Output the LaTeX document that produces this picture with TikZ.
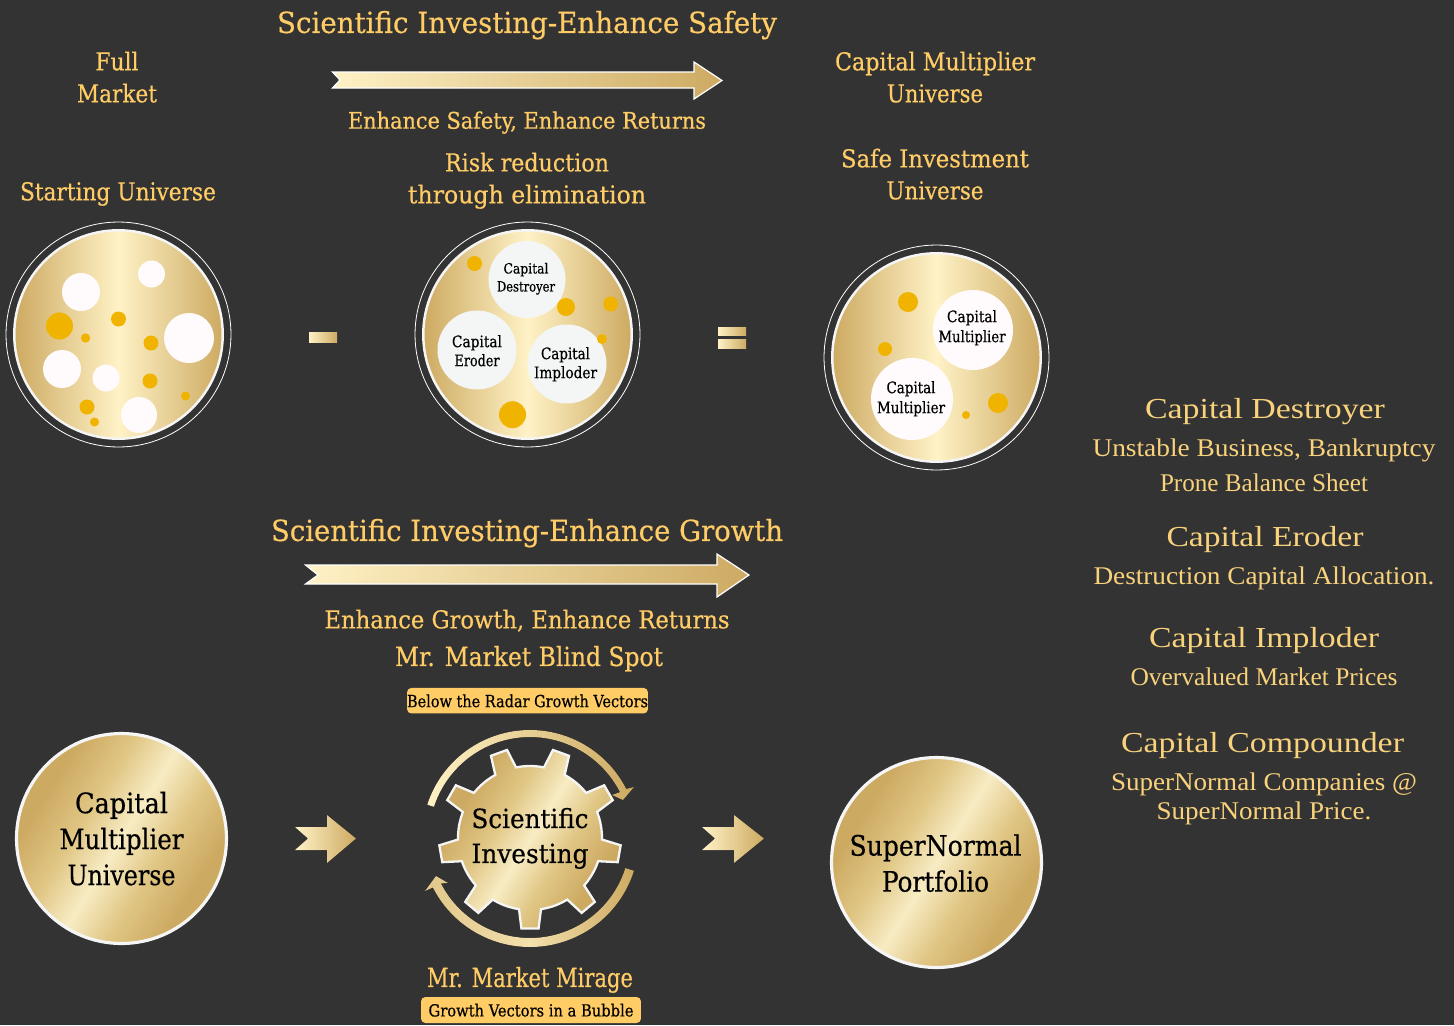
\documentclass[tikz,border=0pt]{standalone}
\usepackage{fontspec}
\usepackage{graphicx}
\setmainfont{DejaVu Serif Condensed}[FakeBold=0.5]
\newfontfamily\zfont{Liberation Serif}
\definecolor{bgc}{HTML}{333333}
\definecolor{gold}{HTML}{FFCC66}
\definecolor{goldb}{HTML}{F9D27C}
\definecolor{edge}{HTML}{CDAA62}
\definecolor{lite}{HTML}{FFF2C6}
\definecolor{wblob}{HTML}{FFFBFD}
\definecolor{gblob}{HTML}{F4F5F5}
\definecolor{yblob}{HTML}{F0B400}
\definecolor{rim}{HTML}{F5F5F5}
\definecolor{bandmid}{HTML}{E0C684}
\definecolor{bandtop}{HTML}{F8ECC4}
\pgfdeclareverticalshading{coinband}{100bp}{color(0bp)=(edge); color(29bp)=(edge); color(40bp)=(bandmid); color(50bp)=(bandtop); color(60bp)=(bandmid); color(71bp)=(edge); color(100bp)=(edge)}
\newsavebox\twbox
\newcommand\tw[3]{\sbox\twbox{\fontsize{#2}{#2}\selectfont #3}%
 \pgfmathsetmacro\twr{#1*0.5691/(\the\wd\twbox)}%
 \pgfmathsetmacro\twh{#2*0.73}%
 \raisebox{0pt}[\twh pt][0pt]{\scalebox{\twr}[1]{\usebox\twbox}}}
\tikzset{
 txt/.style={inner sep=0pt,outer sep=0pt,align=center},
 lab/.style={txt,text=gold,yshift=-0.2pt},
 dark/.style={txt,text=black,yshift=-0.2pt},
 side/.style={txt,text=goldb,font=\zfont},
 ls/.style={execute at begin node={\pgfmathsetlength\baselineskip{#1*0.5691pt}\setlength\lineskip{0pt}\setlength\lineskiplimit{-100pt}}},
 ring/.style={circle,draw=white,line width=0.45pt,inner sep=0pt,minimum size=225*0.5691pt},
 dish/.style={circle,draw=rim,line width=1.4pt,inner sep=0pt,minimum size=208.5*0.5691pt,left color=edge,right color=edge,middle color=lite},
 coin/.style={circle,draw=rim,line width=1.8pt,inner sep=0pt,shading=coinband,shading angle=58},
 blob/.style={circle,inner sep=0pt,draw=none,fill=#1},
 rad/.style={minimum size=2*#1*0.5691pt},
 longarrow/.style={draw=white,line width=0.7pt,left color=lite,right color=edge},
 shortarrow/.style={left color=lite,right color=edge},
 pill/.style={rounded corners=2.5pt,fill=gold,inner sep=0pt}
}
\begin{document}
\begin{tikzpicture}[x=0.02cm,y=-0.02cm]
\fill[bgc] (0,0) rectangle (1454,1025);
\useasboundingbox (0,0) rectangle (1454,1025);

% headings
\node[lab] (t1) at (527,22) {\tw{500}{16.5}{Scientific Investing-Enhance Safety}};
\node[lab,ls=32] (fm) at (117,77) {\tw{43}{14}{Full}\\\tw{80}{14}{Market}};
\node[lab,ls=32] (cmu) at (935,77) {\tw{200}{14}{Capital Multiplier}\\\tw{96}{14}{Universe}};
\node[lab] (es) at (527,120) {\tw{358}{13}{Enhance Safety, Enhance Returns}};
\node[lab,ls=32] (rr) at (527,178) {\tw{164}{14}{Risk reduction}\\\tw{238}{14}{through elimination}};
\node[lab] (su) at (118,191) {\tw{196}{14}{Starting Universe}};
\node[lab,ls=32] (si) at (935,174) {\tw{188}{14}{Safe Investment}\\\tw{97}{14}{Universe}};

% long arrows
\draw[longarrow] (332.5,72) -- (694,72) -- (694,62) -- (722,80.5) -- (694,99) -- (694,88) -- (332.5,88) -- (340,80) -- cycle;
\draw[longarrow] (305.5,565) -- (717,565) -- (717,554) -- (749,575) -- (717,597) -- (717,584) -- (305.5,584) -- (318,575) -- cycle;

% minus and equals
\fill[left color=lite,right color=edge] (309,332) rectangle (337,342);
\fill[left color=lite,right color=edge] (718,327) rectangle (746,335);
\fill[left color=lite,right color=edge] (718,339) rectangle (746,348);

% dishes
\node[ring] (r1) at (118.5,334.5) {};
\node[dish] (d1) at (118.5,334.5) {};
\node[ring] (r2) at (527.5,334.5) {};
\node[dish] (d2) at (527.5,334.5) {};
\node[ring] (r3) at (936.5,357.5) {};
\node[dish] (d3) at (936.5,357.5) {};

\foreach \x/\y/\r [count=\i] in {81/292/19,151.5/274/13.5,189/338/25,62/369/19,106/378/13.5,139/415/18}
  \node[blob=wblob,rad=\r] (wa\i) at (\x,\y) {};
\foreach \x/\y/\r [count=\i] in {59.5/326/13.5,118.5/319/7.5,85.5/338/4.7,151/343/7.5,150/381/7.5,87/407/7.5,94.5/422/4.5,185.5/396/4.5}
  \node[blob=yblob,rad=\r] (ya\i) at (\x,\y) {};
\foreach \x/\y/\r [count=\i] in {527/279.5/38.5,477/350/39.5,567/364/39.5}
  \node[blob=gblob,rad=\r] (wb\i) at (\x,\y) {};
\foreach \x/\y/\r [count=\i] in {474.5/263.5/7.5,566/307/9,610.7/304/7.5,602/339/5,512.5/414.7/13.5}
  \node[blob=yblob,rad=\r] (yb\i) at (\x,\y) {};
\foreach \x/\y/\r [count=\i] in {973/330/40,912/399/41}
  \node[blob=wblob,rad=\r] (wc\i) at (\x,\y) {};
\foreach \x/\y/\r [count=\i] in {908/302/10,885/349/7,998/403/10,966/415/4}
  \node[blob=yblob,rad=\r] (yc\i) at (\x,\y) {};

\node[dark,ls=18] (lb1) at (526,277) {\tw{45}{8}{Capital}\\\tw{58}{8}{Destroyer}};
\node[dark,ls=19] (lb2) at (477,350.5) {\tw{50}{9}{Capital}\\\tw{45}{9}{Eroder}};
\node[dark,ls=19] (lb3) at (565.5,362.5) {\tw{49}{9}{Capital}\\\tw{63}{9}{Imploder}};
\node[dark,ls=20] (lc1) at (972,326) {\tw{50}{9}{Capital}\\\tw{67}{9}{Multiplier}};
\node[dark,ls=20] (lc2) at (911,397) {\tw{49}{9}{Capital}\\\tw{68}{9}{Multiplier}};

% growth heading
\node[lab] (t2) at (527,530) {\tw{512}{16.5}{Scientific Investing-Enhance Growth}};
\node[lab] (eg) at (527,619) {\tw{405}{14}{Enhance Growth, Enhance Returns}};
\node[lab] (bs) at (529,656) {\tw{268}{15}{Mr. Market Blind Spot}};

\node[pill,minimum width=241*0.5691pt,minimum height=25.5*0.5691pt] (p1) at (527.5,700.7) {};
\node[dark] (p1t) at (p1) {\tw{241}{9.5}{Below the Radar Growth Vectors}};
\node[lab] (mm) at (530,977) {\tw{206}{15}{Mr. Market Mirage}};
\node[pill,minimum width=220*0.5691pt,minimum height=26*0.5691pt] (p2) at (531,1010) {};
\node[dark] (p2t) at (p2) {\tw{205}{9.5}{Growth Vectors in a Bubble}};

% coins
\node[coin,minimum size=210*0.5691pt] (c1) at (121.5,838.5) {};
\node[dark,ls=36] (c1t) at (c1) {\tw{93}{16}{Capital}\\\tw{124}{16}{Multiplier}\\\tw{108}{16}{Universe}};
\node[coin,minimum size=210*0.5691pt] (c2) at (936.5,862.5) {};
\node[dark,ls=36] (c2t) at (935.5,863) {\tw{172}{16}{SuperNormal}\\\tw{107}{16}{Portfolio}};

% short arrows
\fill[shortarrow] (295,827) -- (327,827) -- (327,815) -- (356,838.5) -- (327,863) -- (327,850) -- (295,850) -- (308,838.5) -- cycle;
\fill[shortarrow] (702,827) -- (734,827) -- (734,815) -- (764,838.5) -- (734,863) -- (734,850) -- (702,850) -- (715,838.5) -- cycle;

% gear
\begin{scope}[shift={(530,838)}]
\gdef\gearpath{}
\foreach \a in {90,130,...,410}{
  \xdef\gearpath{\gearpath -- ({\a-8.8}:72) -- ({\a-5.4}:91) -- ({\a+5.4}:91) -- ({\a+8.8}:72)
   -- ({\a+13}:72) -- ({\a+17}:72) -- ({\a+20}:72) -- ({\a+23}:72) -- ({\a+27}:72)}
}
\draw[draw=rim,line width=1.3pt,shading=coinband,shading angle=58]
  (81.2:72) \gearpath -- cycle;
\fill[left color=lite,right color=edge]
  plot[domain=198:333,samples=50,smooth] ({101*cos(\x)},{101*sin(\x)})
  -- (82,-43) -- (93,-38) -- (104,-51) --
  plot[domain=333:198,samples=50,smooth] ({108*cos(\x)},{108*sin(\x)}) -- cycle;
\fill[left color=edge!60!lite,right color=edge,middle color=lite!75!edge]
  plot[domain=17.5:153,samples=50,smooth] ({100*cos(\x)},{100*sin(\x)})
  -- (-82,45) -- (-94,38) -- (-105,53) --
  plot[domain=153:17.5,samples=50,smooth] ({109*cos(\x)},{109*sin(\x)}) -- cycle;
\end{scope}
\node[dark,ls=35] (g) at (530,835.5) {\tw{117}{15}{Scientific}\\\tw{117}{15}{Investing}};

% right column
\node[side] (h1) at (1265,408) {\tw{240}{16.5}{Capital Destroyer}};
\node[side,ls=35] (b1) at (1264,464.5) {\tw{343}{14.5}{Unstable Business, Bankruptcy}\\\tw{208}{14.5}{Prone Balance Sheet}};
\node[side] (h2) at (1265,536) {\tw{197}{16.5}{Capital Eroder}};
\node[side] (b2) at (1264,575) {\tw{341}{14.5}{Destruction Capital Allocation.}};
\node[side] (h3) at (1264,637) {\tw{230}{16.5}{Capital Imploder}};
\node[side] (b3) at (1264,676) {\tw{267}{14.5}{Overvalued Market Prices}};
\node[side] (h4) at (1262.5,742) {\tw{283}{16.5}{Capital Compounder}};
\node[side,ls=29] (b4) at (1264,795.5) {\tw{306}{14.5}{SuperNormal Companies @}\\\tw{215}{14.5}{SuperNormal Price.}};
\end{tikzpicture}
\end{document}
